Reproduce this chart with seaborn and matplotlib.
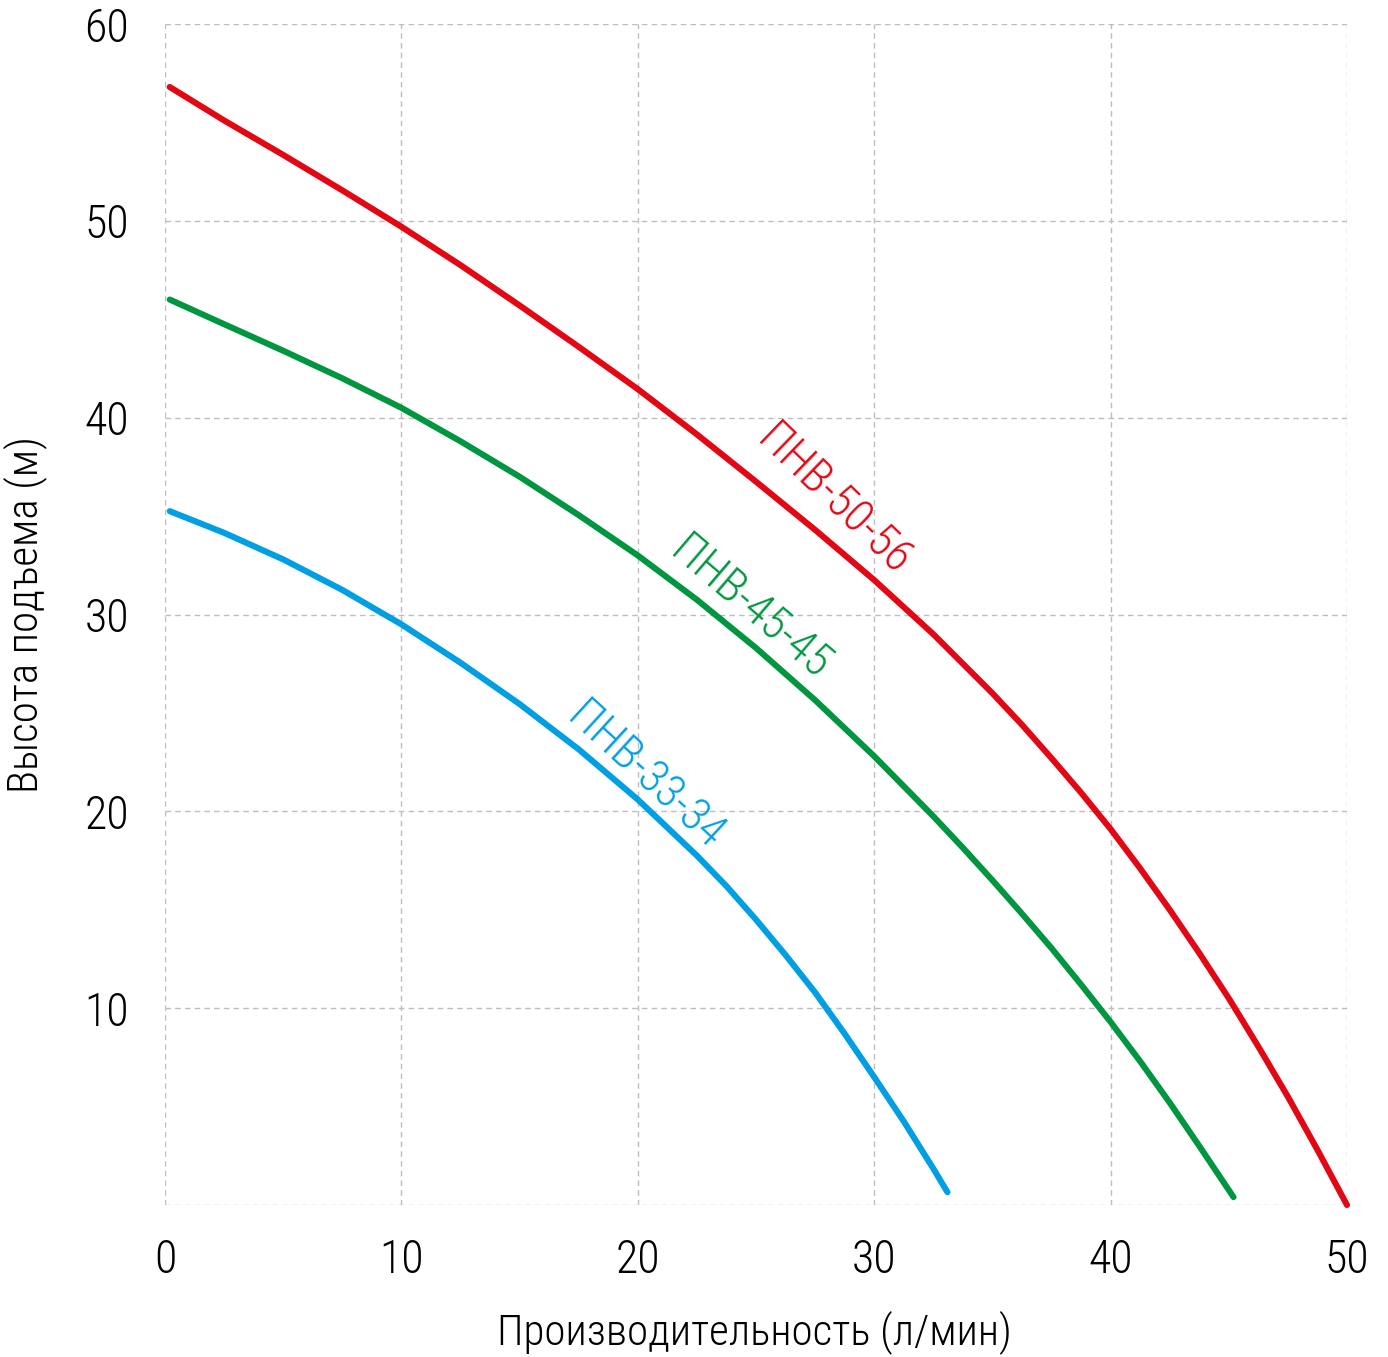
import matplotlib
matplotlib.use("Agg")
import matplotlib.pyplot as plt
import pandas as pd
import seaborn as sns

# pump curves: flow (l/min) -> head (m)
flow_50 = [0.2, 2.5, 5, 7.5, 10, 12.5, 15, 17.5, 20, 22.5, 25, 27.5, 30,
           32.5, 35, 36.25, 37.5, 38.75, 40, 41.25, 42.5, 43.75, 45, 46.25,
           47.5, 48.75, 50]
head_50 = [56.8, 55.1, 53.35, 51.55, 49.7, 47.75, 45.7, 43.6, 41.45, 39.15,
           36.75, 34.3, 31.75, 29.0, 26.0, 24.4, 22.7, 20.95, 19.1, 17.1,
           15.0, 12.8, 10.5, 8.05, 5.5, 2.8, 0.0]
flow_45 = [0.2, 2.5, 5, 7.5, 10, 12.5, 15, 17.5, 20, 22.5, 25, 27.5, 30,
           32.5, 33.75, 35, 36.25, 37.5, 38.75, 40, 41.25, 42.5, 43.75, 45.2]
head_45 = [46.0, 44.75, 43.4, 42.0, 40.5, 38.8, 37.0, 35.05, 33.0, 30.75,
           28.3, 25.65, 22.8, 19.75, 18.15, 16.5, 14.8, 13.05, 11.2, 9.3,
           7.3, 5.2, 3.0, 0.4]
flow_33 = [0.2, 2.5, 5, 7.5, 10, 12.5, 15, 17.5, 20, 22.5, 23.75, 25, 26.25,
           27.5, 28.75, 30, 31.25, 32.5, 33.1]
head_33 = [35.25, 34.15, 32.8, 31.25, 29.5, 27.55, 25.45, 23.15, 20.6, 17.75,
           16.2, 14.5, 12.7, 10.8, 8.7, 6.5, 4.25, 1.85, 0.65]

names = ["ПНВ-50-56", "ПНВ-45-45", "ПНВ-33-34"]
colors = ["#e30613", "#009640", "#009fe3"]
# label placement along each curve (x, y, angle)
label_pos = [(28.3, 35.8, -44.0), (24.75, 30.35, -40.5), (20.3, 21.8, -42.5)]

x_ticks = [0, 10, 20, 30, 40, 50]
y_ticks = [10, 20, 30, 40, 50, 60]

df = pd.concat([
    pd.DataFrame({"flow": flow_50, "head": head_50, "pump": names[0]}),
    pd.DataFrame({"flow": flow_45, "head": head_45, "pump": names[1]}),
    pd.DataFrame({"flow": flow_33, "head": head_33, "pump": names[2]}),
])

sns.set_theme(style="white")
plt.rcParams["font.family"] = ["Roboto Condensed", "Liberation Sans Narrow",
                               "DejaVu Sans"]
plt.rcParams["font.weight"] = "light"
plt.rcParams["axes.labelweight"] = "light"

fig = plt.figure(figsize=(13.88, 13.57), dpi=100)
ax = fig.add_axes([165 / 1388, 1 - 1205 / 1357,
                   (1347 - 165) / 1388, (1205 - 24) / 1357])

for name, col in zip(names, colors):
    sub = df[df.pump == name]
    sns.lineplot(data=sub, x="flow", y="head", color=col, lw=4.4, ax=ax,
                 sort=False, estimator=None, solid_capstyle="round",
                 solid_joinstyle="round", clip_on=False, zorder=3)

for name, col, (lx, ly, ang) in zip(names, colors, label_pos):
    ax.text(lx, ly, name, color=col, fontsize=33, rotation=ang,
            rotation_mode="anchor", ha="center", va="center")

ax.set_xlim(0, 50)
ax.set_ylim(0, 60)
ax.set_xticks(x_ticks)
ax.set_yticks(y_ticks)
ax.grid(True, color="#bdbdbd", lw=1.0, ls=(0, (4, 3)))
# bottom grid line at y=0 (no tick label there)
ax.axhline(0, color="#bdbdbd", lw=1.0, ls=(0, (4, 3)), zorder=0)
for s in ax.spines.values():
    s.set_visible(False)
ax.tick_params(length=0, labelsize=33, colors="black")
ax.tick_params(axis="x", pad=24)
ax.tick_params(axis="y", pad=26)
ax.set_xlabel("Производительность (л/мин)", fontsize=31, va="center",
              fontweight="light", color="black")
ax.set_ylabel("Высота подъема (м)", fontsize=31, va="center",
              fontweight="light", color="black")
ax.xaxis.set_label_coords(0.499, -0.108)
ax.yaxis.set_label_coords(-0.118, 0.4996)

fig.savefig("out.png", dpi=100)
